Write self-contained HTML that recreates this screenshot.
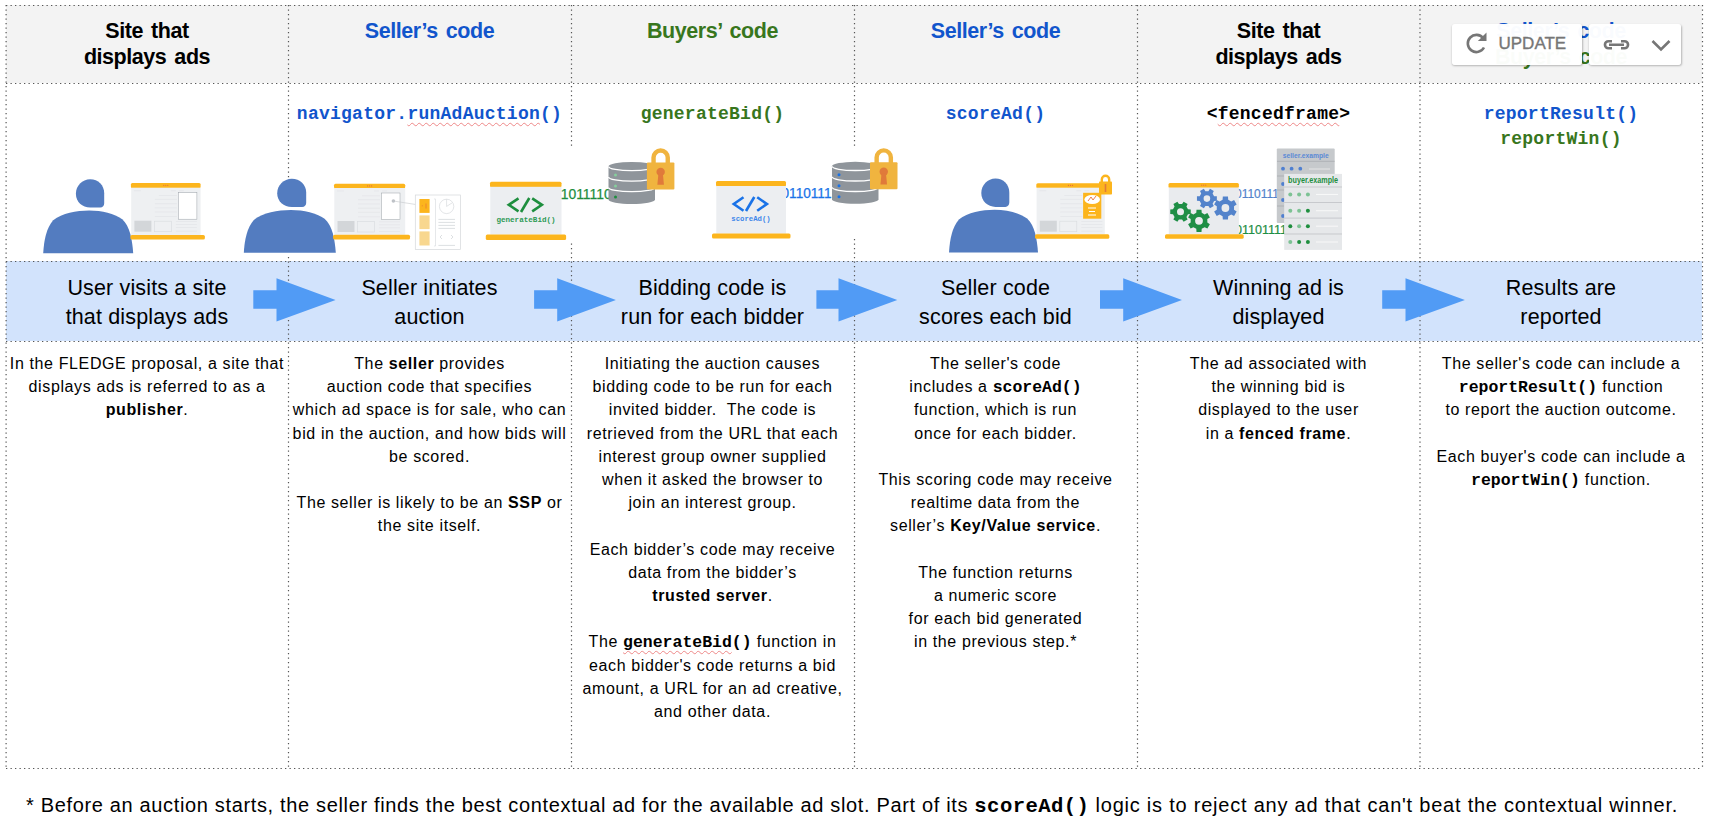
<!DOCTYPE html>
<html><head><meta charset="utf-8">
<style>
html,body{margin:0;padding:0;background:#fff;width:1709px;height:828px;overflow:hidden;position:relative;font-family:"Liberation Sans",sans-serif;color:#000}
.abs{position:absolute}
.hdr{position:absolute;top:0;height:83px;background:#f3f3f3}
.band{position:absolute;top:261px;height:80px;background:#d2e3fc}
.col{position:absolute;text-align:center;white-space:nowrap}
.h{top:17.8px;font-size:21.5px;font-weight:bold;line-height:26px;letter-spacing:-0.45px;word-spacing:2.5px}
.b{top:274px;font-size:21.5px;line-height:29.3px;letter-spacing:0.15px}
.d{top:352px;font-size:16px;line-height:23.2px;letter-spacing:0.62px;color:#000}
.m{font-family:"Liberation Mono",monospace;font-weight:bold;letter-spacing:0;line-height:1px;font-size:1.03em}
.code{top:102px;font-size:18px;line-height:25.3px;letter-spacing:0.25px;font-family:"Liberation Mono",monospace;font-weight:bold}
.blue{color:#1155cc}.green{color:#38761d}
.c1{left:6px;width:282px}.c2{left:288px;width:283px}.c3{left:571px;width:283px}.c4{left:854px;width:283px}.c5{left:1137px;width:283px}.c6{left:1420px;width:282px}
.wavy{text-decoration:underline wavy #e88;text-decoration-thickness:1px;text-underline-offset:3px}
.foot{left:26px;top:793px;font-size:20px;line-height:24px;letter-spacing:0.715px;white-space:nowrap}
</style></head><body>
<div class="hdr" style="left:6px;width:1696px;top:5px;height:78px"></div>
<div class="band" style="left:6px;width:1696px"></div>

<!-- grid lines -->
<svg class="abs" style="left:0;top:0" width="1709" height="828">
<g stroke="#555" stroke-width="1.2" stroke-dasharray="1.3 3.2" fill="none">
<line x1="6" y1="5.5" x2="1702" y2="5.5"/>
<line x1="6" y1="83.5" x2="1702" y2="83.5"/>
<line x1="6" y1="261.5" x2="1702" y2="261.5"/>
<line x1="6" y1="341.5" x2="1702" y2="341.5"/>
<line x1="6" y1="768.5" x2="1702" y2="768.5"/>
<line x1="6.1" y1="5" x2="6.1" y2="768"/>
<line x1="288.5" y1="5" x2="288.5" y2="768"/>
<line x1="571.5" y1="5" x2="571.5" y2="768"/>
<line x1="854.5" y1="5" x2="854.5" y2="768"/>
<line x1="1137.5" y1="5" x2="1137.5" y2="768"/>
<line x1="1420" y1="5" x2="1420" y2="768"/>
<line x1="1702.5" y1="5" x2="1702.5" y2="768"/>
</g>
<g fill="#fff"><rect x="285" y="178.5" width="7" height="78"/><rect x="568" y="147.5" width="7" height="95"/><rect x="851" y="147" width="7" height="92"/></g>
<g id="icons">
<path d="M90.2,179.2 C82.2,179.2 75.9,185.7 75.9,193.7 C75.9,201.7 82.2,207.5 90.2,207.5 L100.2,207.5 C102.7,207.5 104.2,205.7 104.2,203.2 L104.2,193.2 C104.2,185.2 98.2,179.2 90.2,179.2Z" fill="#537cc0"/><path d="M43.2,253.2 C44.0,240.2 46.2,228.2 53.2,220.2 C62.2,213.2 76.2,210.4 89.2,210.4 C102.2,210.4 114.2,213.2 122.2,219.2 C130.2,226.2 132.2,240.2 133.2,253.2Z" fill="#537cc0"/>
<rect x="130.9" y="182.9" width="69.69999999999999" height="5.299999999999983" rx="1.5" fill="#fcb51d"/>
<rect x="131.20000000000002" y="187.7" width="69.39999999999999" height="47.30000000000001" fill="#eef0f2"/>
<rect x="130.4" y="235" width="74.5" height="4.5" rx="1.5" fill="#fcb51d"/>
<circle cx="163.8" cy="185.3" r="0.6" fill="#e8703a"/>
<circle cx="165.8" cy="185.3" r="0.6" fill="#e8703a"/>
<circle cx="167.8" cy="185.3" r="0.6" fill="#e8703a"/>
<g stroke="#e0e3e6" stroke-width="0.6">
<line x1="133.9" y1="190.7" x2="140.9" y2="190.7"/>
<line x1="170.9" y1="190.7" x2="175.9" y2="190.7"/><line x1="178.9" y1="190.7" x2="183.9" y2="190.7"/>
<line x1="158.9" y1="195.5" x2="176.9" y2="195.5"/>
<line x1="154.9" y1="199.39999999999998" x2="176.9" y2="199.39999999999998"/>
<line x1="154.9" y1="203.7" x2="176.9" y2="203.7"/>
<line x1="154.9" y1="207.89999999999998" x2="176.9" y2="207.89999999999998"/>
<line x1="154.9" y1="212.0" x2="176.9" y2="212.0"/>
<line x1="154.9" y1="216.5" x2="176.9" y2="216.5"/>
<line x1="175.9" y1="221.5" x2="196.9" y2="221.5"/>
<line x1="175.9" y1="224.5" x2="196.9" y2="224.5"/>
<line x1="175.9" y1="227.5" x2="196.9" y2="227.5"/>
<line x1="175.9" y1="231.2" x2="196.9" y2="231.2"/>
</g>
<rect x="134.4" y="220.7" width="17" height="11" fill="#d3d6d9"/>
<rect x="154.4" y="221.2" width="17" height="10.5" fill="none" stroke="#d8dbde" stroke-width="0.6"/>
<rect x="178.4" y="192.7" width="18.5" height="26.5" fill="#fff" stroke="#9aa0a6" stroke-width="0.5"/>
<path d="M291.8,178.8 C283.7,178.8 277.2,185.3 277.2,193.3 C277.2,201.3 283.7,207.1 291.8,207.1 L302.1,207.1 C304.6,207.1 306.2,205.3 306.2,202.8 L306.2,192.8 C306.2,184.8 300.0,178.8 291.8,178.8Z" fill="#537cc0"/><path d="M243.8,252.8 C244.6,239.8 246.9,227.8 254.0,219.8 C263.2,212.8 277.5,210.0 290.8,210.0 C304.1,210.0 316.4,212.8 324.6,218.8 C332.7,225.8 334.8,239.8 335.8,252.8Z" fill="#537cc0"/>
<rect x="334" y="183.8" width="71.19999999999999" height="4.699999999999989" rx="1.5" fill="#fcb51d"/>
<rect x="334.3" y="188" width="70.89999999999999" height="46.69999999999999" fill="#eef0f2"/>
<rect x="333.1" y="234.7" width="76.89999999999998" height="4.800000000000011" rx="1.5" fill="#fcb51d"/>
<circle cx="367.6" cy="185.9" r="0.6" fill="#e8703a"/>
<circle cx="369.6" cy="185.9" r="0.6" fill="#e8703a"/>
<circle cx="371.6" cy="185.9" r="0.6" fill="#e8703a"/>
<g stroke="#e0e3e6" stroke-width="0.6">
<line x1="337" y1="191" x2="344" y2="191"/>
<line x1="374" y1="191" x2="379" y2="191"/><line x1="382" y1="191" x2="387" y2="191"/>
<line x1="362" y1="195.8" x2="380" y2="195.8"/>
<line x1="358" y1="199.7" x2="380" y2="199.7"/>
<line x1="358" y1="204" x2="380" y2="204"/>
<line x1="358" y1="208.2" x2="380" y2="208.2"/>
<line x1="358" y1="212.3" x2="380" y2="212.3"/>
<line x1="358" y1="216.8" x2="380" y2="216.8"/>
<line x1="379" y1="221.8" x2="400" y2="221.8"/>
<line x1="379" y1="224.8" x2="400" y2="224.8"/>
<line x1="379" y1="227.8" x2="400" y2="227.8"/>
<line x1="379" y1="231.5" x2="400" y2="231.5"/>
</g>
<rect x="337.5" y="221" width="17" height="11" fill="#d3d6d9"/>
<rect x="357.5" y="221.5" width="17" height="10.5" fill="none" stroke="#d8dbde" stroke-width="0.6"/>
<rect x="381.5" y="193" width="18.5" height="26.5" fill="#fff" stroke="#9aa0a6" stroke-width="0.5"/>
<circle cx="393.4" cy="201" r="1.8" fill="#bdc1c6"/><path d="M393.4,201 L419,205" stroke="#c4c7cb" stroke-width="0.6"/>
<rect x="415.3" y="195" width="45.3" height="54.5" fill="#fff" stroke="#d5d8db" stroke-width="0.7"/>
<rect x="419.4" y="199" width="10.2" height="13.9" fill="#fcb51d"/>
<rect x="419.4" y="215.4" width="10.2" height="13.7" fill="#f8d78f"/><rect x="419.4" y="231.4" width="10.2" height="14.1" fill="#f8d78f"/>
<path d="M421.8,205.8 h1 M426,203.5 v5" stroke="#e8703a" stroke-width="0.7"/>
<path d="M434,199 h1.5 v47 h-1.5" fill="none" stroke="#d5d8db" stroke-width="0.6"/>
<circle cx="446.6" cy="206.4" r="7.2" fill="none" stroke="#d0d3d6" stroke-width="0.6"/><path d="M446.6,206.4 v-7.2 M446.6,206.4 l5.5,-3.5" stroke="#d0d3d6" stroke-width="0.6"/>
<g stroke="#cfd2d5" stroke-width="0.7"><line x1="438.4" y1="219.4" x2="455" y2="219.4"/><line x1="438.4" y1="222.4" x2="455" y2="222.4"/><line x1="438.4" y1="225.4" x2="455" y2="225.4"/><line x1="438.4" y1="228.4" x2="455" y2="228.4"/><line x1="438.4" y1="245.4" x2="455" y2="245.4"/></g>
<path d="M442,235 l-2,2 l2,2 M451,235 l2,2 l-2,2" fill="none" stroke="#cfd2d5" stroke-width="0.7"/>
<rect x="490" y="181.8" width="71.5" height="5.5" rx="1.5" fill="#fcb51d"/>
<rect x="490.3" y="186.8" width="71.2" height="47.69999999999999" fill="#eceef1"/>
<rect x="485.8" y="234.5" width="80.30000000000001" height="5.599999999999994" rx="1.5" fill="#fcb51d"/>
<g fill="none" stroke="#1e8e3e" stroke-width="2.6" stroke-linejoin="miter"><path d="M518.5,198.3 L508.8,204.8 L518.5,211.3"/><path d="M529.3,198 L521,212"/><path d="M532.2,198.3 L541.9,204.8 L532.2,211.3"/></g>
<text x="526" y="221.6" text-anchor="middle" font-family="Liberation Mono" font-weight="bold" font-size="7.6" fill="#2e9a55">generateBid()</text>
<text x="560.7" y="198.6" style="font-family:Liberation Sans" font-size="14" fill="#1e8e3e" stroke="#1e8e3e" stroke-width="0.25" textLength="51" lengthAdjust="spacingAndGlyphs">1011110</text>
<path d="M608.5,166.5 A23.25,4.5 0 0,1 655.0,166.5 L655.0,199.5 A23.25,4.5 0 0,1 608.5,199.5 Z" fill="#8f959b"/>
<path d="M608.5,166.5 A23.25,4.2 0 0,0 655.0,166.5" fill="none" stroke="#fff" stroke-width="1.3"/>
<path d="M608.5,177 A23.25,4.2 0 0,0 655.0,177" fill="none" stroke="#fff" stroke-width="1.3"/>
<path d="M608.5,187.5 A23.25,4.2 0 0,0 655.0,187.5" fill="none" stroke="#fff" stroke-width="1.3"/>
<circle cx="615.5" cy="175" r="1.5" fill="#86cf9c"/>
<circle cx="615.5" cy="186" r="1.5" fill="#86cf9c"/>
<circle cx="615.5" cy="197" r="1.5" fill="#1e8e3e"/>
<path d="M653.55,163.4 V157.6 A7.1,7.1 0 0,1 667.75,157.6 V163.4" fill="none" stroke="#f0b43f" stroke-width="4.4"/>
<rect x="646.9" y="162.4" width="27.5" height="27" rx="1" fill="#f0b43f"/>
<circle cx="660.65" cy="171.9" r="4.2" fill="#e07a3a"/><path d="M658.4499999999999,173.4 L657.35,184.70000000000002 L663.9499999999999,184.70000000000002 L662.85,173.4Z" fill="#e07a3a"/>
<text x="781.5" y="198" style="font-family:Liberation Sans" font-size="14" fill="#1a73e8" stroke="#1a73e8" stroke-width="0.25" textLength="50" lengthAdjust="spacingAndGlyphs">0110111</text>
<rect x="716" y="181" width="70" height="5.5" rx="1.5" fill="#fcb51d"/>
<rect x="716.3" y="186" width="69.7" height="47.599999999999994" fill="#eceef1"/>
<rect x="712" y="233.6" width="78.5" height="4.900000000000006" rx="1.5" fill="#fcb51d"/>
<g fill="none" stroke="#1a73e8" stroke-width="2.6"><path d="M743.5,197.3 L733.8,204 L743.5,210.7"/><path d="M754.3,197 L746,211"/><path d="M757.2,197.3 L766.9,204 L757.2,210.7"/></g>
<text x="751" y="220.6" text-anchor="middle" font-family="Liberation Mono" font-weight="bold" font-size="7.3" fill="#3d86ea">scoreAd()</text>
<path d="M832,166.3 A23.25,4.5 0 0,1 878.5,166.3 L878.5,199.3 A23.25,4.5 0 0,1 832,199.3 Z" fill="#8f959b"/>
<path d="M832,166.3 A23.25,4.2 0 0,0 878.5,166.3" fill="none" stroke="#fff" stroke-width="1.3"/>
<path d="M832,176.8 A23.25,4.2 0 0,0 878.5,176.8" fill="none" stroke="#fff" stroke-width="1.3"/>
<path d="M832,187.3 A23.25,4.2 0 0,0 878.5,187.3" fill="none" stroke="#fff" stroke-width="1.3"/>
<circle cx="839" cy="174.8" r="1.5" fill="#1a73e8"/>
<circle cx="839" cy="185.8" r="1.5" fill="#1a73e8"/>
<circle cx="839" cy="196.8" r="1.5" fill="#1a73e8"/>
<path d="M876.65,163.3 V157.5 A7.1,7.1 0 0,1 890.85,157.5 V163.3" fill="none" stroke="#f0b43f" stroke-width="4.4"/>
<rect x="870" y="162.3" width="27.5" height="27" rx="1" fill="#f0b43f"/>
<circle cx="883.75" cy="171.8" r="4.2" fill="#e07a3a"/><path d="M881.55,173.3 L880.45,184.60000000000002 L887.05,184.60000000000002 L885.95,173.3Z" fill="#e07a3a"/>
<path d="M995.5,178.6 C987.6,178.6 981.3,185.1 981.3,193.1 C981.3,201.1 987.6,206.9 995.5,206.9 L1005.4,206.9 C1007.8,206.9 1009.3,205.1 1009.3,202.6 L1009.3,192.6 C1009.3,184.6 1003.4,178.6 995.5,178.6Z" fill="#537cc0"/><path d="M949.0,252.6 C949.8,239.6 952.0,227.6 958.9,219.6 C967.8,212.6 981.6,209.8 994.5,209.8 C1007.3,209.8 1019.2,212.6 1027.1,218.6 C1035.0,225.6 1037.0,239.6 1038.0,252.6Z" fill="#537cc0"/>
<rect x="1036.3" y="183.2" width="68.5" height="5.0" rx="1.5" fill="#fcb51d"/>
<rect x="1036.6" y="187.7" width="68.2" height="46.5" fill="#eef0f2"/>
<rect x="1035" y="234.2" width="74.29999999999995" height="4.600000000000023" rx="1.5" fill="#fcb51d"/>
<circle cx="1068.5" cy="185.4" r="0.6" fill="#e8703a"/>
<circle cx="1070.5" cy="185.4" r="0.6" fill="#e8703a"/>
<circle cx="1072.5" cy="185.4" r="0.6" fill="#e8703a"/>
<g stroke="#e0e3e6" stroke-width="0.6">
<line x1="1039.3" y1="190.7" x2="1046.3" y2="190.7"/>
<line x1="1076.3" y1="190.7" x2="1081.3" y2="190.7"/><line x1="1084.3" y1="190.7" x2="1089.3" y2="190.7"/>
<line x1="1064.3" y1="195.5" x2="1082.3" y2="195.5"/>
<line x1="1060.3" y1="199.39999999999998" x2="1082.3" y2="199.39999999999998"/>
<line x1="1060.3" y1="203.7" x2="1082.3" y2="203.7"/>
<line x1="1060.3" y1="207.89999999999998" x2="1082.3" y2="207.89999999999998"/>
<line x1="1060.3" y1="212.0" x2="1082.3" y2="212.0"/>
<line x1="1060.3" y1="216.5" x2="1082.3" y2="216.5"/>
<line x1="1081.3" y1="221.5" x2="1102.3" y2="221.5"/>
<line x1="1081.3" y1="224.5" x2="1102.3" y2="224.5"/>
<line x1="1081.3" y1="227.5" x2="1102.3" y2="227.5"/>
<line x1="1081.3" y1="231.2" x2="1102.3" y2="231.2"/>
</g>
<rect x="1039.8" y="220.7" width="17" height="11" fill="#d3d6d9"/>
<rect x="1059.8" y="221.2" width="17" height="10.5" fill="none" stroke="#d8dbde" stroke-width="0.6"/>
<rect x="1083.1" y="192.8" width="18.2" height="25.9" fill="#fcb51d"/>
<ellipse cx="1092.2" cy="199.5" rx="7.8" ry="4.6" fill="#fff"/><path d="M1088,201 l3,-4 l2,3 l3,-4" fill="none" stroke="#e8703a" stroke-width="0.9"/>
<g stroke="#fff" stroke-width="1"><line x1="1088" y1="208" x2="1096" y2="208"/><line x1="1089" y1="211.5" x2="1095" y2="211.5"/><line x1="1088" y1="215" x2="1096" y2="215"/></g>
<path d="M1101.8,183 V179.5 A3.7,3.7 0 0,1 1109.2,179.5 V183" fill="none" stroke="#fcb51d" stroke-width="2.4"/>
<rect x="1099" y="181.6" width="13" height="13" rx="0.8" fill="#fcb51d"/>
<path d="M1105.5,184 v8" stroke="#e07a3a" stroke-width="1.6"/>
<text x="1235" y="197.5" style="font-family:Liberation Sans" font-size="12.5" fill="#5383cb" stroke="#5383cb" stroke-width="0.2" textLength="44" lengthAdjust="spacingAndGlyphs">0110111</text>
<text x="1235" y="233.8" style="font-family:Liberation Sans" font-size="12.5" fill="#1e8e45" stroke="#1e8e45" stroke-width="0.2" textLength="52" lengthAdjust="spacingAndGlyphs">01101111</text>
<rect x="1168.5" y="182.9" width="70.40000000000009" height="5.099999999999994" rx="1.5" fill="#fcb51d"/>
<rect x="1168.8" y="187.5" width="70.1000000000001" height="46.69999999999999" fill="#e9ebee"/>
<rect x="1165" y="234.2" width="78.70000000000005" height="4.600000000000023" rx="1.5" fill="#fcb51d"/>
<circle cx="1201.7" cy="185.2" r="0.6" fill="#e8703a"/>
<circle cx="1203.7" cy="185.2" r="0.6" fill="#e8703a"/>
<circle cx="1205.7" cy="185.2" r="0.6" fill="#e8703a"/>
<path d="M1187.99,209.28 L1190.75,209.51 L1190.75,214.09 L1187.99,214.32 L1186.43,217.02 L1187.61,219.53 L1183.64,221.82 L1182.06,219.54 L1178.94,219.54 L1177.36,221.82 L1173.39,219.53 L1174.57,217.02 L1173.01,214.32 L1170.25,214.09 L1170.25,209.51 L1173.01,209.28 L1174.57,206.58 L1173.39,204.07 L1177.36,201.78 L1178.94,204.06 L1182.06,204.06 L1183.64,201.78 L1187.61,204.07 L1186.43,206.58Z M1184.00,211.80 A3.5,3.5 0 1,0 1177.00,211.80 A3.5,3.5 0 1,0 1184.00,211.80Z" fill="#1e8e45" fill-rule="evenodd"/>
<path d="M1196.29,212.74 L1196.51,209.67 L1201.49,209.67 L1201.71,212.74 L1204.62,214.42 L1207.39,213.08 L1209.88,217.39 L1207.33,219.12 L1207.33,222.48 L1209.88,224.21 L1207.39,228.52 L1204.62,227.18 L1201.71,228.86 L1201.49,231.93 L1196.51,231.93 L1196.29,228.86 L1193.38,227.18 L1190.61,228.52 L1188.12,224.21 L1190.67,222.48 L1190.67,219.12 L1188.12,217.39 L1190.61,213.08 L1193.38,214.42Z M1202.90,220.80 A3.9,3.9 0 1,0 1195.10,220.80 A3.9,3.9 0 1,0 1202.90,220.80Z" fill="#1e8e45" fill-rule="evenodd"/>
<path d="M1214.10,196.18 L1216.85,196.37 L1216.85,200.83 L1214.10,201.02 L1212.60,203.63 L1213.80,206.11 L1209.95,208.33 L1208.40,206.05 L1205.40,206.05 L1203.85,208.33 L1200.00,206.11 L1201.20,203.63 L1199.70,201.02 L1196.95,200.83 L1196.95,196.37 L1199.70,196.18 L1201.20,193.57 L1200.00,191.09 L1203.85,188.87 L1205.40,191.15 L1208.40,191.15 L1209.95,188.87 L1213.80,191.09 L1212.60,193.57Z M1210.20,198.60 A3.3,3.3 0 1,0 1203.60,198.60 A3.3,3.3 0 1,0 1210.20,198.60Z" fill="#5383cb" fill-rule="evenodd"/>
<path d="M1222.59,199.66 L1222.83,196.48 L1227.97,196.48 L1228.21,199.66 L1231.22,201.40 L1234.09,200.01 L1236.66,204.47 L1234.03,206.26 L1234.03,209.74 L1236.66,211.53 L1234.09,215.99 L1231.22,214.60 L1228.21,216.34 L1227.97,219.52 L1222.83,219.52 L1222.59,216.34 L1219.58,214.60 L1216.71,215.99 L1214.14,211.53 L1216.77,209.74 L1216.77,206.26 L1214.14,204.47 L1216.71,200.01 L1219.58,201.40Z M1229.30,208.00 A3.9,3.9 0 1,0 1221.50,208.00 A3.9,3.9 0 1,0 1229.30,208.00Z" fill="#5383cb" fill-rule="evenodd"/>
<rect x="1276.8" y="148.4" width="57.9" height="74.5" rx="1" fill="#c6c9cc"/>
<text x="1305.7" y="157.5" text-anchor="middle" font-family="Liberation Sans" font-weight="bold" font-size="8" fill="#5b8ad6" textLength="46" lengthAdjust="spacingAndGlyphs">seller.example</text>
<g stroke="#9ea2a6" stroke-width="0.6"><line x1="1277" y1="161.3" x2="1334.7" y2="161.3"/><line x1="1277" y1="176" x2="1284" y2="176"/><line x1="1277" y1="190" x2="1284" y2="190"/><line x1="1277" y1="206" x2="1284" y2="206"/></g>
<g fill="#4f7fd0"><circle cx="1283" cy="168.7" r="1.9"/><circle cx="1291.6" cy="168.7" r="1.9"/><circle cx="1300.3" cy="168.7" r="1.9"/><circle cx="1283" cy="184" r="1.9"/><circle cx="1283" cy="200" r="1.9"/><circle cx="1283" cy="216" r="1.9"/></g>
<line x1="1309" y1="169" x2="1330" y2="169" stroke="#eee" stroke-width="0.8"/>
<rect x="1284.2" y="173.9" width="57.8" height="76" fill="#e6e8ea"/>
<text x="1313.1" y="182.6" text-anchor="middle" font-family="Liberation Sans" font-weight="bold" font-size="8.4" fill="#1e8e3e" textLength="50" lengthAdjust="spacingAndGlyphs">buyer.example</text>
<g stroke="#b9bcc0" stroke-width="0.7"><line x1="1284.2" y1="187" x2="1342" y2="187"/><line x1="1284.2" y1="202.5" x2="1342" y2="202.5"/><line x1="1284.2" y1="218.1" x2="1342" y2="218.1"/><line x1="1284.2" y1="234" x2="1342" y2="234"/></g>
<circle cx="1290.3" cy="194.4" r="2" fill="#7dc294"/>
<circle cx="1299.1" cy="194.4" r="2" fill="#7dc294"/>
<circle cx="1307.9" cy="194.4" r="2" fill="#7dc294"/>
<line x1="1316" y1="194.4" x2="1338" y2="194.4" stroke="#fafafa" stroke-width="0.9"/>
<circle cx="1290.3" cy="210.7" r="2" fill="#7dc294"/>
<circle cx="1299.1" cy="210.7" r="2" fill="#7dc294"/>
<circle cx="1307.9" cy="210.7" r="2" fill="#1e8e3e"/>
<line x1="1316" y1="210.7" x2="1338" y2="210.7" stroke="#fafafa" stroke-width="0.9"/>
<circle cx="1290.3" cy="226.2" r="2" fill="#1e8e3e"/>
<circle cx="1299.1" cy="226.2" r="2" fill="#7dc294"/>
<circle cx="1307.9" cy="226.2" r="2" fill="#1e8e3e"/>
<line x1="1316" y1="226.2" x2="1338" y2="226.2" stroke="#fafafa" stroke-width="0.9"/>
<circle cx="1290.3" cy="242" r="2" fill="#7dc294"/>
<circle cx="1299.1" cy="242" r="2" fill="#1e8e3e"/>
<circle cx="1307.9" cy="242" r="2" fill="#1e8e3e"/>
<line x1="1316" y1="242" x2="1338" y2="242" stroke="#fafafa" stroke-width="0.9"/>
</g>
</svg>

<!-- headers -->
<div class="col h c1">Site that<br>displays ads</div>
<div class="col h c2 blue">Seller&#8217;s code</div>
<div class="col h c3 green">Buyers&#8217; code</div>
<div class="col h c4 blue">Seller&#8217;s code</div>
<div class="col h c5">Site that<br>displays ads</div>
<div class="col h c6"><span class="blue">Seller&#8217;s code</span><br><span class="green">Buyer&#8217;s code</span></div>

<!-- code labels -->
<div class="col code c2 blue">navigator.<span class="wavy">runAdAuction</span>()</div>
<div class="col code c3 green">generateBid()</div>
<div class="col code c4 blue">scoreAd()</div>
<div class="col code c5">&lt;<span class="wavy">fencedframe</span>&gt;</div>
<div class="col code c6"><span class="blue">reportResult()</span><br><span class="green">reportWin()</span></div>

<!-- arrows -->
<svg class="abs" style="left:0;top:0" width="1709" height="828"><g fill="#519bf5"><path d="M253.3,290.3 H276.5 V278.2 L335.6,300 L276.5,321.5 V308.7 H253.3 Z"/><path d="M534.1,290.3 H557.2 V278.2 L615.9,300 L557.2,321.5 V308.7 H534.1 Z"/><path d="M816.4,290.3 H838.5 V278.2 L897.3,300 L838.5,321.5 V308.7 H816.4 Z"/><path d="M1100,290.3 H1123.2 V278.2 L1182,300 L1123.2,321.5 V308.7 H1100 Z"/><path d="M1382.2,290.3 H1405.5 V278.2 L1464.9,300 L1405.5,321.5 V308.7 H1382.2 Z"/></g></svg>
<!-- band text -->
<div class="col b c1">User visits a site<br>that displays ads</div>
<div class="col b c2">Seller initiates<br>auction</div>
<div class="col b c3">Bidding code is<br>run for each bidder</div>
<div class="col b c4">Seller code<br>scores each bid</div>
<div class="col b c5">Winning ad is<br>displayed</div>
<div class="col b c6">Results are<br>reported</div>

<!-- descriptions -->
<div class="col d c1">In the FLEDGE proposal, a site that<br>displays ads is referred to as a<br><b>publisher</b>.</div>
<div class="col d c2">The <b>seller</b> provides<br>auction code that specifies<br>which ad space is for sale, who can<br>bid in the auction, and how bids will<br>be scored.<br><br>The seller is likely to be an <b>SSP</b> or<br>the site itself.</div>
<div class="col d c3">Initiating the auction causes<br>bidding code to be run for each<br>invited bidder.&nbsp; The code is<br>retrieved from the URL that each<br>interest group owner supplied<br>when it asked the browser to<br>join an interest group.<br><br>Each bidder&#8217;s code may receive<br>data from the bidder&#8217;s<br><b>trusted server</b>.<br><br>The <b class="m wavy">generateBid</b><b class="m">()</b> function in<br>each bidder's code returns a bid<br>amount, a URL for an ad creative,<br>and other data.</div>
<div class="col d c4">The seller's code<br>includes a <b class="m">scoreAd()</b><br>function, which is run<br>once for each bidder.<br><br>This scoring code may receive<br>realtime data from the<br>seller&#8217;s <b>Key/Value service</b>.<br><br>The function returns<br>a numeric score<br>for each bid generated<br>in the previous step.*</div>
<div class="col d c5">The ad associated with<br>the winning bid is<br>displayed to the user<br>in a <b>fenced frame</b>.</div>
<div class="col d c6">The seller's code can include a<br><b class="m">reportResult()</b> function<br>to report the auction outcome.<br><br>Each buyer's code can include a<br><b class="m">reportWin()</b> function.</div>

<div class="abs foot"><span style="letter-spacing:0.655px">* Before an auction starts, the seller finds the best contextual ad for the available ad slot. Part of its </span><b class="m" style="letter-spacing:0.4px">scoreAd()</b><span style="letter-spacing:0.775px"> logic is to reject any ad that can't beat the contextual winner.</span></div>


<!-- toolbar overlay -->
<div class="abs" style="left:1452px;top:24px;width:130px;height:40.5px;background:rgba(255,255,255,0.975);border-radius:3px;box-shadow:0.5px 1px 2px rgba(0,0,0,0.25)"></div>
<div class="abs" style="left:1589px;top:24px;width:92px;height:40.5px;background:rgba(255,255,255,0.975);border-radius:3px;box-shadow:0.5px 1px 2px rgba(0,0,0,0.25)"></div>
<svg class="abs" style="left:0;top:0" width="1709" height="828">
<g fill="none" stroke="#767676" stroke-width="2.6">
<path d="M1483.2,38.2 A8.6,8.6 0 1,0 1484,47.5"/>
<path d="M1608.5,41.2 h3.5 M1608.5,48.3 h3.5 M1608.5,41.2 a3.55,3.55 0 0,0 0,7.1 M1621,41.2 h3.5 a3.55,3.55 0 0,1 0,7.1 h-3.5 M1609,44.75 h15"/>
<path d="M1652.5,41 l8.5,8.5 l8.5,-8.5"/>
</g>
<path d="M1486.5,32.5 v8.6 h-8.6 z" fill="#767676"/>
</svg>
<div class="abs" style="left:1498.5px;top:34.3px;font-size:17px;line-height:20px;color:#767676;-webkit-text-stroke:0.35px #767676">UPDATE</div>
</body></html>
